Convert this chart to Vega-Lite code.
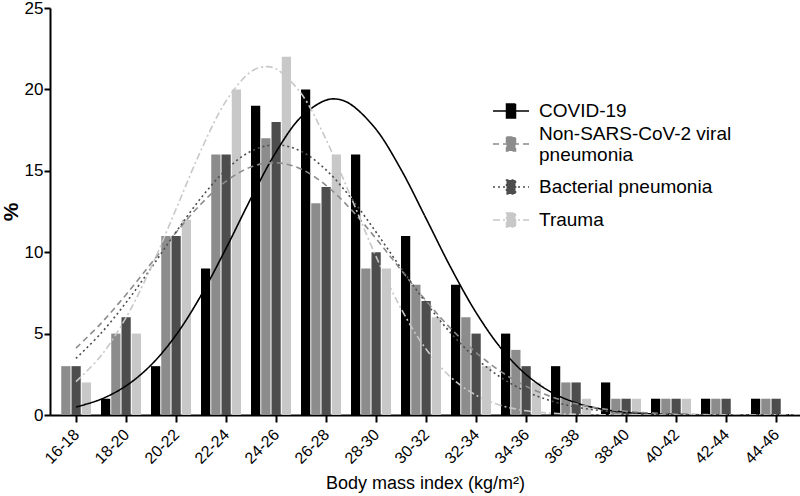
{
  "$schema": "https://vega.github.io/schema/vega-lite/v6.json",
  "width": 750,
  "height": 407,
  "autosize": "none",
  "padding": {"left": 50, "top": 8, "right": 0, "bottom": 81},
  "background": "white",
  "config": {
    "font": "Liberation Sans",
    "view": {"stroke": null},
    "axis": {"domainColor": "black", "domainWidth": 2, "tickColor": "black", "tickWidth": 2, "tickSize": 7, "labelColor": "black", "titleColor": "black", "grid": false, "labelFont": "Liberation Sans", "titleFont": "Liberation Sans"},
    "legend": {"labelFont": "Liberation Sans"}
  },
  "datasets": {
    "bars": [
      {"bin": "16-18", "group": "COVID-19", "pct": 0},
      {"bin": "16-18", "group": "Non-SARS-CoV-2 viral pneumonia", "pct": 3},
      {"bin": "16-18", "group": "Bacterial pneumonia", "pct": 3},
      {"bin": "16-18", "group": "Trauma", "pct": 2},
      {"bin": "18-20", "group": "COVID-19", "pct": 1},
      {"bin": "18-20", "group": "Non-SARS-CoV-2 viral pneumonia", "pct": 5},
      {"bin": "18-20", "group": "Bacterial pneumonia", "pct": 6},
      {"bin": "18-20", "group": "Trauma", "pct": 5},
      {"bin": "20-22", "group": "COVID-19", "pct": 3},
      {"bin": "20-22", "group": "Non-SARS-CoV-2 viral pneumonia", "pct": 11},
      {"bin": "20-22", "group": "Bacterial pneumonia", "pct": 11},
      {"bin": "20-22", "group": "Trauma", "pct": 12},
      {"bin": "22-24", "group": "COVID-19", "pct": 9},
      {"bin": "22-24", "group": "Non-SARS-CoV-2 viral pneumonia", "pct": 16},
      {"bin": "22-24", "group": "Bacterial pneumonia", "pct": 16},
      {"bin": "22-24", "group": "Trauma", "pct": 20},
      {"bin": "24-26", "group": "COVID-19", "pct": 19},
      {"bin": "24-26", "group": "Non-SARS-CoV-2 viral pneumonia", "pct": 17},
      {"bin": "24-26", "group": "Bacterial pneumonia", "pct": 18},
      {"bin": "24-26", "group": "Trauma", "pct": 22},
      {"bin": "26-28", "group": "COVID-19", "pct": 20},
      {"bin": "26-28", "group": "Non-SARS-CoV-2 viral pneumonia", "pct": 13},
      {"bin": "26-28", "group": "Bacterial pneumonia", "pct": 14},
      {"bin": "26-28", "group": "Trauma", "pct": 16},
      {"bin": "28-30", "group": "COVID-19", "pct": 16},
      {"bin": "28-30", "group": "Non-SARS-CoV-2 viral pneumonia", "pct": 9},
      {"bin": "28-30", "group": "Bacterial pneumonia", "pct": 10},
      {"bin": "28-30", "group": "Trauma", "pct": 9},
      {"bin": "30-32", "group": "COVID-19", "pct": 11},
      {"bin": "30-32", "group": "Non-SARS-CoV-2 viral pneumonia", "pct": 8},
      {"bin": "30-32", "group": "Bacterial pneumonia", "pct": 7},
      {"bin": "30-32", "group": "Trauma", "pct": 6},
      {"bin": "32-34", "group": "COVID-19", "pct": 8},
      {"bin": "32-34", "group": "Non-SARS-CoV-2 viral pneumonia", "pct": 6},
      {"bin": "32-34", "group": "Bacterial pneumonia", "pct": 5},
      {"bin": "32-34", "group": "Trauma", "pct": 3},
      {"bin": "34-36", "group": "COVID-19", "pct": 5},
      {"bin": "34-36", "group": "Non-SARS-CoV-2 viral pneumonia", "pct": 4},
      {"bin": "34-36", "group": "Bacterial pneumonia", "pct": 3},
      {"bin": "34-36", "group": "Trauma", "pct": 2},
      {"bin": "36-38", "group": "COVID-19", "pct": 3},
      {"bin": "36-38", "group": "Non-SARS-CoV-2 viral pneumonia", "pct": 2},
      {"bin": "36-38", "group": "Bacterial pneumonia", "pct": 2},
      {"bin": "36-38", "group": "Trauma", "pct": 1},
      {"bin": "38-40", "group": "COVID-19", "pct": 2},
      {"bin": "38-40", "group": "Non-SARS-CoV-2 viral pneumonia", "pct": 1},
      {"bin": "38-40", "group": "Bacterial pneumonia", "pct": 1},
      {"bin": "38-40", "group": "Trauma", "pct": 1},
      {"bin": "40-42", "group": "COVID-19", "pct": 1},
      {"bin": "40-42", "group": "Non-SARS-CoV-2 viral pneumonia", "pct": 1},
      {"bin": "40-42", "group": "Bacterial pneumonia", "pct": 1},
      {"bin": "40-42", "group": "Trauma", "pct": 1},
      {"bin": "42-44", "group": "COVID-19", "pct": 1},
      {"bin": "42-44", "group": "Non-SARS-CoV-2 viral pneumonia", "pct": 1},
      {"bin": "42-44", "group": "Bacterial pneumonia", "pct": 1},
      {"bin": "42-44", "group": "Trauma", "pct": 0},
      {"bin": "44-46", "group": "COVID-19", "pct": 1},
      {"bin": "44-46", "group": "Non-SARS-CoV-2 viral pneumonia", "pct": 1},
      {"bin": "44-46", "group": "Bacterial pneumonia", "pct": 1},
      {"bin": "44-46", "group": "Trauma", "pct": 0}
    ],
    "curves": [
      {"bmi": 17, "group": "COVID-19", "pct": 0.49},
      {"bmi": 18, "group": "COVID-19", "pct": 0.97},
      {"bmi": 19, "group": "COVID-19", "pct": 1.79},
      {"bmi": 20, "group": "COVID-19", "pct": 3.07},
      {"bmi": 21, "group": "COVID-19", "pct": 4.91},
      {"bmi": 22, "group": "COVID-19", "pct": 7.34},
      {"bmi": 23, "group": "COVID-19", "pct": 10.23},
      {"bmi": 24, "group": "COVID-19", "pct": 13.31},
      {"bmi": 25, "group": "COVID-19", "pct": 16.15},
      {"bmi": 26, "group": "COVID-19", "pct": 18.3},
      {"bmi": 27, "group": "COVID-19", "pct": 19.34},
      {"bmi": 27.5, "group": "COVID-19", "pct": 19.39},
      {"bmi": 28, "group": "COVID-19", "pct": 19.07},
      {"bmi": 29, "group": "COVID-19", "pct": 17.55},
      {"bmi": 30, "group": "COVID-19", "pct": 15.08},
      {"bmi": 31, "group": "COVID-19", "pct": 12.08},
      {"bmi": 32, "group": "COVID-19", "pct": 9.03},
      {"bmi": 33, "group": "COVID-19", "pct": 6.3},
      {"bmi": 34, "group": "COVID-19", "pct": 4.1},
      {"bmi": 35, "group": "COVID-19", "pct": 2.49},
      {"bmi": 36, "group": "COVID-19", "pct": 1.41},
      {"bmi": 37, "group": "COVID-19", "pct": 0.75},
      {"bmi": 38, "group": "COVID-19", "pct": 0.37},
      {"bmi": 39, "group": "COVID-19", "pct": 0.17},
      {"bmi": 40, "group": "COVID-19", "pct": 0.07},
      {"bmi": 41, "group": "COVID-19", "pct": 0.03},
      {"bmi": 42, "group": "COVID-19", "pct": 0.01},
      {"bmi": 43, "group": "COVID-19", "pct": 0},
      {"bmi": 44.5, "group": "COVID-19", "pct": 0},
      {"bmi": 46, "group": "COVID-19", "pct": 0},
      {"bmi": 17, "group": "Non-SARS-CoV-2 viral pneumonia", "pct": 4.11},
      {"bmi": 18, "group": "Non-SARS-CoV-2 viral pneumonia", "pct": 5.63},
      {"bmi": 19, "group": "Non-SARS-CoV-2 viral pneumonia", "pct": 7.39},
      {"bmi": 20, "group": "Non-SARS-CoV-2 viral pneumonia", "pct": 9.3},
      {"bmi": 21, "group": "Non-SARS-CoV-2 viral pneumonia", "pct": 11.21},
      {"bmi": 22, "group": "Non-SARS-CoV-2 viral pneumonia", "pct": 12.96},
      {"bmi": 23, "group": "Non-SARS-CoV-2 viral pneumonia", "pct": 14.35},
      {"bmi": 24, "group": "Non-SARS-CoV-2 viral pneumonia", "pct": 15.24},
      {"bmi": 25, "group": "Non-SARS-CoV-2 viral pneumonia", "pct": 15.5},
      {"bmi": 26, "group": "Non-SARS-CoV-2 viral pneumonia", "pct": 15.11},
      {"bmi": 27, "group": "Non-SARS-CoV-2 viral pneumonia", "pct": 14.11},
      {"bmi": 28, "group": "Non-SARS-CoV-2 viral pneumonia", "pct": 12.63},
      {"bmi": 29, "group": "Non-SARS-CoV-2 viral pneumonia", "pct": 10.84},
      {"bmi": 30, "group": "Non-SARS-CoV-2 viral pneumonia", "pct": 8.91},
      {"bmi": 31, "group": "Non-SARS-CoV-2 viral pneumonia", "pct": 7.02},
      {"bmi": 32, "group": "Non-SARS-CoV-2 viral pneumonia", "pct": 5.3},
      {"bmi": 33, "group": "Non-SARS-CoV-2 viral pneumonia", "pct": 3.84},
      {"bmi": 34, "group": "Non-SARS-CoV-2 viral pneumonia", "pct": 2.66},
      {"bmi": 35, "group": "Non-SARS-CoV-2 viral pneumonia", "pct": 1.77},
      {"bmi": 36, "group": "Non-SARS-CoV-2 viral pneumonia", "pct": 1.13},
      {"bmi": 37, "group": "Non-SARS-CoV-2 viral pneumonia", "pct": 0.69},
      {"bmi": 38, "group": "Non-SARS-CoV-2 viral pneumonia", "pct": 0.4},
      {"bmi": 39, "group": "Non-SARS-CoV-2 viral pneumonia", "pct": 0.23},
      {"bmi": 40, "group": "Non-SARS-CoV-2 viral pneumonia", "pct": 0.12},
      {"bmi": 41, "group": "Non-SARS-CoV-2 viral pneumonia", "pct": 0.06},
      {"bmi": 42, "group": "Non-SARS-CoV-2 viral pneumonia", "pct": 0.03},
      {"bmi": 43, "group": "Non-SARS-CoV-2 viral pneumonia", "pct": 0.01},
      {"bmi": 44.5, "group": "Non-SARS-CoV-2 viral pneumonia", "pct": 0},
      {"bmi": 46, "group": "Non-SARS-CoV-2 viral pneumonia", "pct": 0},
      {"bmi": 17, "group": "Bacterial pneumonia", "pct": 3.48},
      {"bmi": 18, "group": "Bacterial pneumonia", "pct": 5.02},
      {"bmi": 19, "group": "Bacterial pneumonia", "pct": 6.9},
      {"bmi": 20, "group": "Bacterial pneumonia", "pct": 9.02},
      {"bmi": 21, "group": "Bacterial pneumonia", "pct": 11.24},
      {"bmi": 22, "group": "Bacterial pneumonia", "pct": 13.33},
      {"bmi": 23, "group": "Bacterial pneumonia", "pct": 15.06},
      {"bmi": 24, "group": "Bacterial pneumonia", "pct": 16.2},
      {"bmi": 25, "group": "Bacterial pneumonia", "pct": 16.6},
      {"bmi": 26, "group": "Bacterial pneumonia", "pct": 16.2},
      {"bmi": 27, "group": "Bacterial pneumonia", "pct": 15.06},
      {"bmi": 28, "group": "Bacterial pneumonia", "pct": 13.33},
      {"bmi": 29, "group": "Bacterial pneumonia", "pct": 11.24},
      {"bmi": 30, "group": "Bacterial pneumonia", "pct": 9.02},
      {"bmi": 31, "group": "Bacterial pneumonia", "pct": 6.9},
      {"bmi": 32, "group": "Bacterial pneumonia", "pct": 5.02},
      {"bmi": 33, "group": "Bacterial pneumonia", "pct": 3.48},
      {"bmi": 34, "group": "Bacterial pneumonia", "pct": 2.3},
      {"bmi": 35, "group": "Bacterial pneumonia", "pct": 1.45},
      {"bmi": 36, "group": "Bacterial pneumonia", "pct": 0.87},
      {"bmi": 37, "group": "Bacterial pneumonia", "pct": 0.49},
      {"bmi": 38, "group": "Bacterial pneumonia", "pct": 0.27},
      {"bmi": 39, "group": "Bacterial pneumonia", "pct": 0.14},
      {"bmi": 40, "group": "Bacterial pneumonia", "pct": 0.07},
      {"bmi": 41, "group": "Bacterial pneumonia", "pct": 0.03},
      {"bmi": 42, "group": "Bacterial pneumonia", "pct": 0.01},
      {"bmi": 43, "group": "Bacterial pneumonia", "pct": 0},
      {"bmi": 44.5, "group": "Bacterial pneumonia", "pct": 0},
      {"bmi": 46, "group": "Bacterial pneumonia", "pct": 0},
      {"bmi": 17, "group": "Trauma", "pct": 2.05},
      {"bmi": 18, "group": "Trauma", "pct": 3.64},
      {"bmi": 19, "group": "Trauma", "pct": 5.98},
      {"bmi": 20, "group": "Trauma", "pct": 9.05},
      {"bmi": 21, "group": "Trauma", "pct": 12.64},
      {"bmi": 22, "group": "Trauma", "pct": 16.26},
      {"bmi": 23, "group": "Trauma", "pct": 19.28},
      {"bmi": 24, "group": "Trauma", "pct": 21.09},
      {"bmi": 24.6, "group": "Trauma", "pct": 21.4},
      {"bmi": 25, "group": "Trauma", "pct": 21.26},
      {"bmi": 26, "group": "Trauma", "pct": 19.76},
      {"bmi": 27, "group": "Trauma", "pct": 16.93},
      {"bmi": 28, "group": "Trauma", "pct": 13.38},
      {"bmi": 29, "group": "Trauma", "pct": 9.74},
      {"bmi": 30, "group": "Trauma", "pct": 6.54},
      {"bmi": 31, "group": "Trauma", "pct": 4.05},
      {"bmi": 32, "group": "Trauma", "pct": 2.31},
      {"bmi": 33, "group": "Trauma", "pct": 1.22},
      {"bmi": 34, "group": "Trauma", "pct": 0.59},
      {"bmi": 35, "group": "Trauma", "pct": 0.26},
      {"bmi": 36, "group": "Trauma", "pct": 0.11},
      {"bmi": 37, "group": "Trauma", "pct": 0.04},
      {"bmi": 38, "group": "Trauma", "pct": 0.01},
      {"bmi": 39, "group": "Trauma", "pct": 0},
      {"bmi": 41, "group": "Trauma", "pct": 0},
      {"bmi": 43.5, "group": "Trauma", "pct": 0},
      {"bmi": 46, "group": "Trauma", "pct": 0}
    ]
  },
  "layer": [
    {
      "data": {"name": "bars"},
      "mark": {"type": "bar"},
      "encoding": {
        "x": {
          "field": "bin", "type": "nominal", "sort": null,
          "scale": {"paddingInner": 0.2, "paddingOuter": 0.1, "align": 0.1},
          "axis": {"labelAngle": -45, "bandPosition": 0.625, "labelFontSize": 16, "labelPadding": 4, "title": "Body mass index (kg/m²)", "titleFontSize": 18, "titleFontWeight": "normal", "titlePadding": 8}
        },
        "xOffset": {
          "field": "group", "type": "nominal",
          "scale": {"domain": ["COVID-19", "Non-SARS-CoV-2 viral pneumonia", "Bacterial pneumonia", "Trauma"], "paddingInner": 0.1, "paddingOuter": 0}
        },
        "y": {
          "field": "pct", "type": "quantitative",
          "scale": {"domain": [0, 25], "nice": false},
          "axis": {"values": [0, 5, 10, 15, 20, 25], "labelFontSize": 17, "labelPadding": 1, "tickSize": 6, "title": "%", "titleFontSize": 21, "titleFontWeight": "bold", "titlePadding": 3}
        },
        "color": {
          "field": "group", "type": "nominal",
          "scale": {"domain": ["COVID-19", "Non-SARS-CoV-2 viral pneumonia", "Bacterial pneumonia", "Trauma"], "range": ["#000000", "#8c8c8c", "#4d4d4d", "#c8c8c8"]},
          "legend": {
            "orient": "none", "legendX": 442, "legendY": 84, "title": null,
            "symbolType": "M-1,0H1M-0.25,-0.39H0.25V0.39H-0.25Z",
            "symbolSize": 1296, "symbolStrokeWidth": 1.5, "labelFontSize": 19, "labelColor": "black", "labelLimit": 320, "labelOffset": 9, "rowPadding": 3,
            "labelExpr": "datum.label == 'Non-SARS-CoV-2 viral pneumonia' ? ['Non-SARS-CoV-2 viral', 'pneumonia'] : datum.label",
            "encode": {"labels": {"update": {"dy": {"signal": "datum.value == 'Non-SARS-CoV-2 viral pneumonia' ? -10 : 0"}}}}
          }
        }
      }
    },
    {
      "data": {"name": "curves"},
      "mark": {"type": "line", "interpolate": "catmull-rom", "strokeWidth": 1.6, "clip": true},
      "encoding": {
        "x": {"field": "bmi", "type": "quantitative", "scale": {"domain": [15.96, 45.96], "nice": false, "zero": false}, "axis": null},
        "y": {"field": "pct", "type": "quantitative"},
        "color": {"field": "group", "type": "nominal"},
        "strokeDash": {
          "field": "group", "type": "nominal",
          "scale": {"domain": ["COVID-19", "Non-SARS-CoV-2 viral pneumonia", "Bacterial pneumonia", "Trauma"], "range": [[1, 0], [6, 4], [2, 3], [7, 3, 2, 3]]}
        }
      }
    }
  ],
  "resolve": {"scale": {"x": "independent"}, "axis": {"x": "independent"}}
}
